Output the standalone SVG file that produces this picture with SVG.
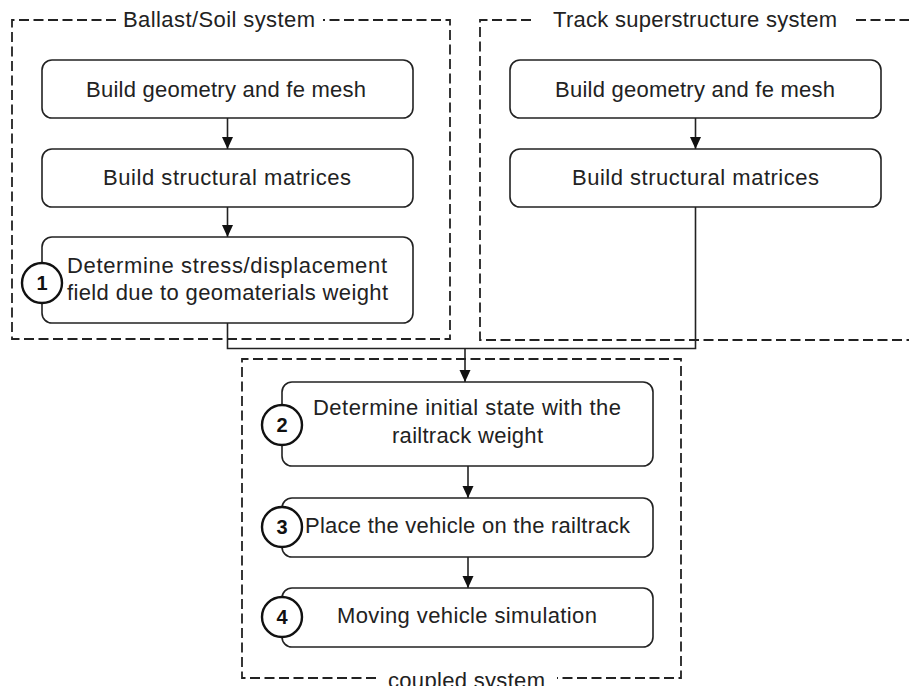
<svg xmlns="http://www.w3.org/2000/svg" width="909" height="686" viewBox="0 0 909 686">
<style>
.bg{fill:#ffffff}
.grp{fill:none;stroke:#222;stroke-width:1.8;stroke-dasharray:10 4.5}
.box{fill:#ffffff;stroke:#222;stroke-width:1.6}
.num{fill:#ffffff;stroke:#111;stroke-width:2.4}
.t{font-family:"Liberation Sans",Arial,sans-serif;font-size:22px;fill:#222;text-anchor:middle}
.n{font-family:"Liberation Sans",Arial,sans-serif;font-size:20px;font-weight:bold;fill:#111;text-anchor:middle}
.edge{fill:none;stroke:#222;stroke-width:1.6}
</style>
<defs>
<marker id="arr" markerUnits="userSpaceOnUse" markerWidth="12" markerHeight="12" viewBox="0 0 12 12" refX="12" refY="6" orient="auto">
<path d="M0,0.5 L12,6 L0,11.5 Z" fill="#111"/>
</marker>
</defs>
<rect class="bg" x="0" y="0" width="909" height="686"/>

<g id="group-ballast">
<path class="grp" d="M116,20 H12 V339 H450 V20 H323"/>
<text class="t" x="219" y="27" textLength="192">Ballast/Soil system</text>
</g>
<g id="group-track">
<path class="grp" d="M531,20 H480 V340 H909"/>
<path class="grp" d="M856,20 H909"/>
<text class="t" x="695" y="27" textLength="284">Track superstructure system</text>
</g>
<g id="group-coupled">
<path class="grp" d="M376,678 H242 V359 H681 V678 H557"/>
<text class="t" x="466.5" y="688" textLength="157">coupled system</text>
</g>

<g id="connectors">
<line class="edge" x1="227.5" y1="118" x2="227.5" y2="149" marker-end="url(#arr)"/>
<line class="edge" x1="227.5" y1="207" x2="227.5" y2="237" marker-end="url(#arr)"/>
<line class="edge" x1="695.5" y1="118" x2="695.5" y2="149" marker-end="url(#arr)"/>
<path class="edge" d="M227.5,323 V348.5 H695.5 V207"/>
<line class="edge" x1="465" y1="348.5" x2="465" y2="382" marker-end="url(#arr)"/>
<line class="edge" x1="468" y1="466" x2="468" y2="498" marker-end="url(#arr)"/>
<line class="edge" x1="468" y1="557" x2="468" y2="588" marker-end="url(#arr)"/>
</g>

<g id="l1">
<rect class="box" x="42" y="60" width="371" height="58" rx="10"/>
<text class="t" x="226" y="97" textLength="280">Build geometry and fe mesh</text>
</g>
<g id="l2">
<rect class="box" x="42" y="149" width="371" height="58" rx="10"/>
<text class="t" x="227" y="185" textLength="248">Build structural matrices</text>
</g>
<g id="l3">
<rect class="box" x="42" y="237" width="371" height="86" rx="10"/>
<text class="t" x="227" y="273" textLength="320">Determine stress/displacement</text>
<text class="t" x="227.5" y="300" textLength="321">field due to geomaterials weight</text>
<circle class="num" cx="42" cy="283" r="20"/>
<text class="n" x="42" y="290">1</text>
</g>
<g id="r1">
<rect class="box" x="510" y="60" width="371" height="58" rx="10"/>
<text class="t" x="695" y="97" textLength="280">Build geometry and fe mesh</text>
</g>
<g id="r2">
<rect class="box" x="510" y="149" width="371" height="58" rx="10"/>
<text class="t" x="695.5" y="185" textLength="247">Build structural matrices</text>
</g>
<g id="c2">
<rect class="box" x="282" y="382" width="371" height="84" rx="10"/>
<text class="t" x="467" y="415" textLength="308">Determine initial state with the</text>
<text class="t" x="467.5" y="443" textLength="151">railtrack weight</text>
<circle class="num" cx="282" cy="425" r="20"/>
<text class="n" x="282" y="432">2</text>
</g>
<g id="c3">
<rect class="box" x="282" y="498" width="371" height="59" rx="10"/>
<text class="t" x="467.5" y="533" textLength="325">Place the vehicle on the railtrack</text>
<circle class="num" cx="282" cy="527" r="20"/>
<text class="n" x="282" y="534">3</text>
</g>
<g id="c4">
<rect class="box" x="282" y="588" width="371" height="59" rx="10"/>
<text class="t" x="467" y="623" textLength="260">Moving vehicle simulation</text>
<circle class="num" cx="282" cy="617" r="20"/>
<text class="n" x="282" y="624">4</text>
</g>
</svg>
